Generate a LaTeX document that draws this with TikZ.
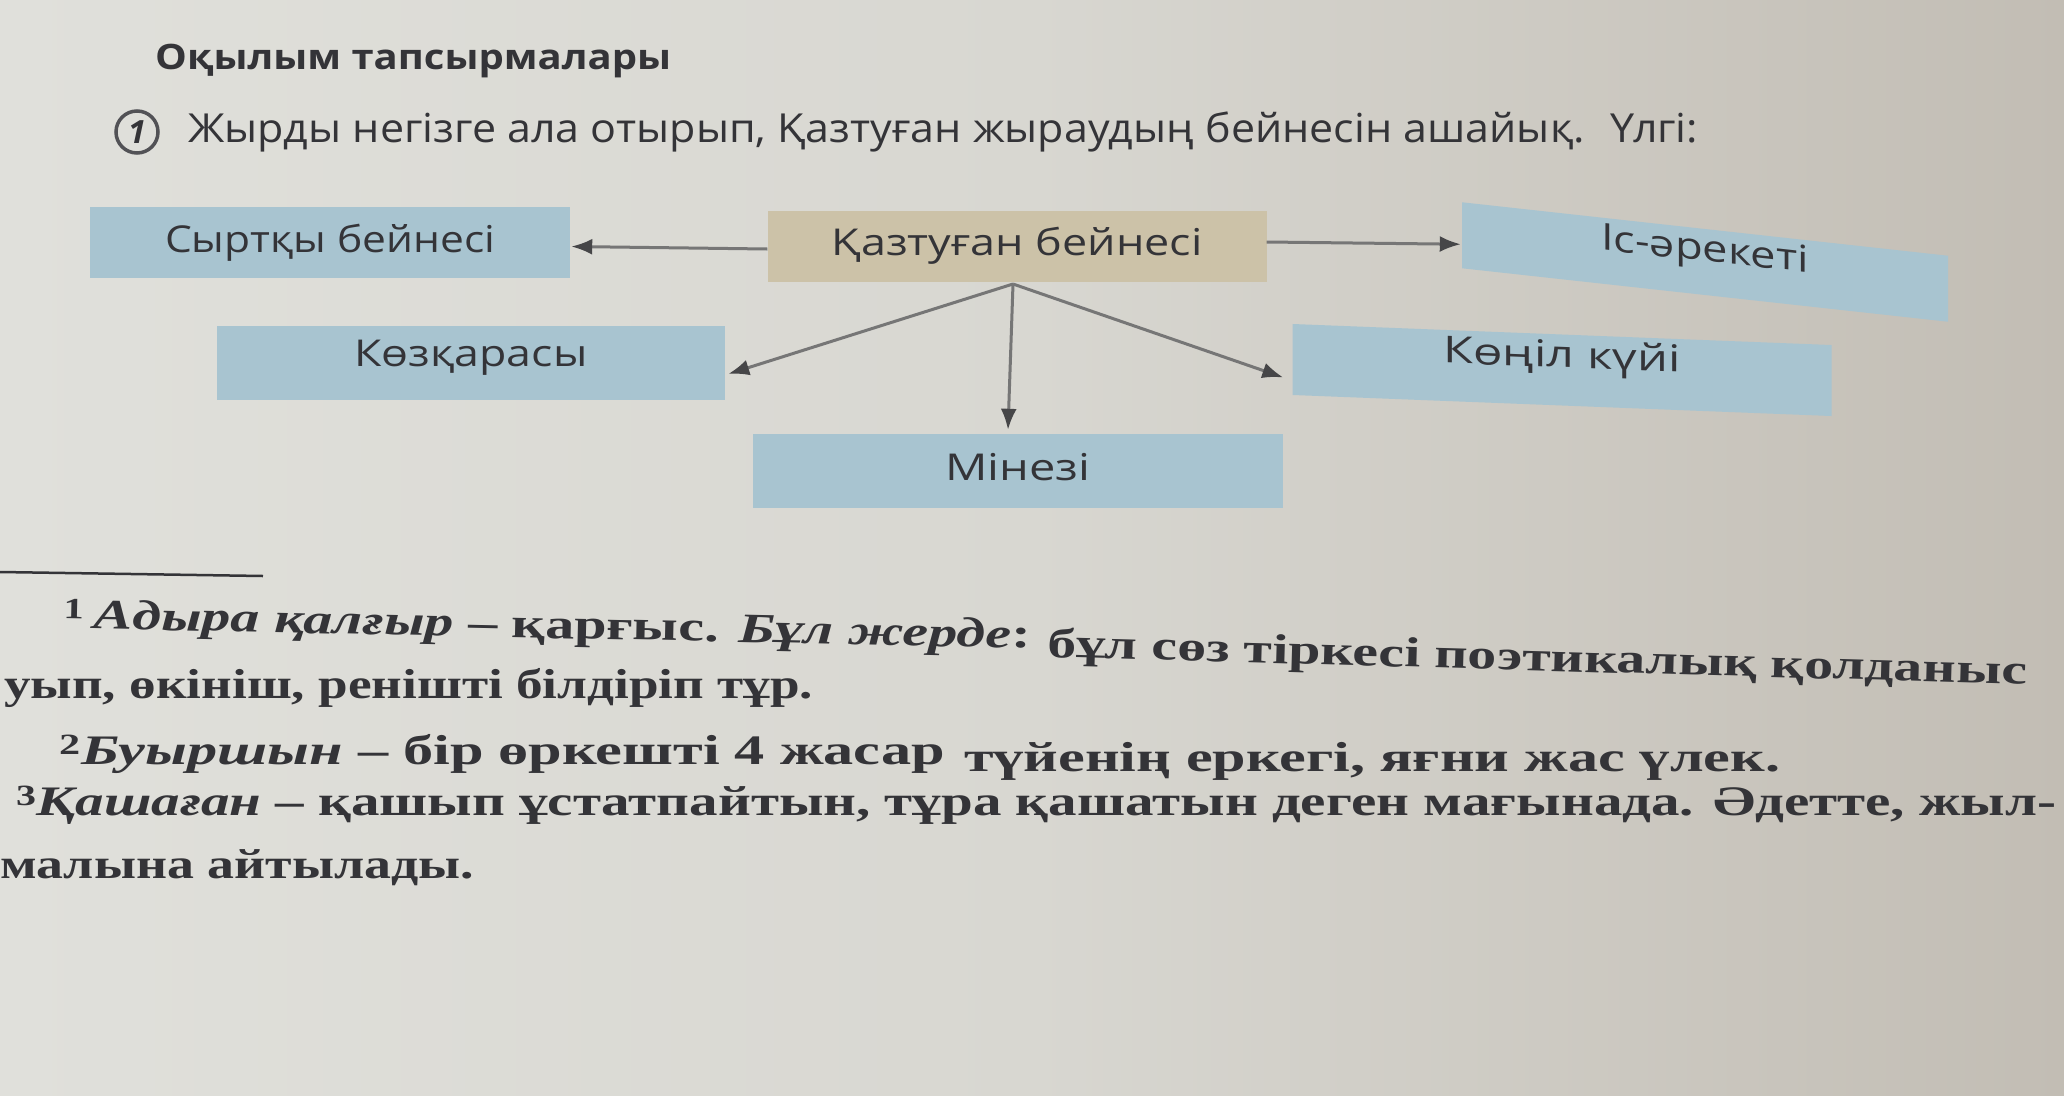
\documentclass[tikz,border=0pt]{standalone}
\usepackage{fontspec}
\usepackage{graphicx}
\setmainfont{Liberation Serif}
\newfontfamily\diagfont{Open Sans}
\usetikzlibrary{arrows.meta,calc}
\definecolor{bgL}{RGB}{224,224,219}
\definecolor{bgM}{RGB}{216,215,209}
\definecolor{bgR}{RGB}{194,189,180}
\definecolor{boxblue}{RGB}{168,196,208}
\definecolor{boxtan}{RGB}{204,194,168}
\definecolor{ink}{RGB}{52,52,56}
\definecolor{linegray}{RGB}{118,118,118}
\definecolor{tipgray}{RGB}{70,70,72}
\newlength\fitlen
\newcommand\fitw[2]{\settowidth\fitlen{#2}\scalebox{\fpeval{#1/\fitlen}}[1]{#2}}
\newcommand\lift[2]{\raisebox{#1pt}[\height][\depth]{#2}}
\tikzset{
  bluebox/.style={fill=boxblue, draw=none, inner sep=0pt},
  tanbox/.style={fill=boxtan, draw=none, inner sep=0pt},
  dtext/.style={font=\diagfont\fontsize{37}{37}\selectfont, text=ink},
  arr/.style={draw=linegray, line width=3pt, -{Latex[length=21pt,width=16pt,color=tipgray]}},
  fnote/.style={font=\bfseries\fontsize{42}{42}\selectfont, text=ink, inner sep=0pt, anchor=base west},
}
\begin{document}
\begin{tikzpicture}[x=1pt,y=-1pt]
\useasboundingbox (0,0) rectangle (2064,1095);
\shade[left color=bgL, right color=bgR, middle color=bgM] (0,0) rectangle (2064,1095);

% title and instruction
\node[font=\diagfont\bfseries\fontsize{35}{35}\selectfont, text=ink, anchor=west, inner sep=0pt] (title) at (155,61) {\fitw{516}{Оқылым тапсырмалары}};
\node[draw=ink!85, line width=3.5pt, circle, minimum size=42pt, inner sep=0pt, font=\diagfont\bfseries\itshape\fontsize{32}{32}\selectfont, text=ink] (num) at (137,132) {1};
\node[font=\diagfont\fontsize{40}{40}\selectfont, text=ink, anchor=west, inner sep=0pt] (instr) at (188,132) {\fitw{1510}{Жырды негізге ала отырып, Қазтуған жыраудың бейнесін ашайық. \ Үлгі:}};

% diagram boxes
\node[bluebox, dtext, minimum width=480pt, minimum height=71pt] (syr) at (330,242.5) {\fitw{330}{Сыртқы бейнесі}};
\node[tanbox, dtext, minimum width=499pt, minimum height=71pt] (kaz) at (1017,246) {\fitw{371}{Қазтуған бейнесі}};
\node[bluebox, dtext, minimum width=486pt, minimum height=66pt, yslant=-0.11, transform shape] (is) at (1705,262) {\lift{10}{\fitw{208}{Іс-әрекеті}}};
\node[bluebox, dtext, minimum width=508pt, minimum height=74pt] (koz) at (471,363) {\lift{5}{\fitw{233}{Көзқарасы}}};
\node[bluebox, dtext, minimum width=539pt, minimum height=71pt, yslant=-0.039, transform shape] (kon) at (1562,370) {\lift{12}{\fitw{237}{Көңіл күйі}}};
\node[bluebox, dtext, minimum width=530pt, minimum height=74pt] (min) at (1018,471) {\lift{4}{\fitw{145}{Мінезі}}};

% connectors
\coordinate (hub) at (1013,284);
\draw[arr] ($(kaz.west)+(0,3)$) -- ($(syr.east)+(1,4)$);
\draw[arr] ($(kaz.east)+(0,-4)$) -- ($(is.west)+(-1,9)$);
\draw[arr] (hub) -- ($(koz.east)+(3,11)$);
\draw[arr] (hub) -- ($(min.north)+(-10,-4)$);
\draw[arr] (hub) -- ($(kon.west)+(-9,18)$);

% footnotes
\draw[draw=ink, line width=2.5pt] (0,572) coordinate (r1) -- (263,576) coordinate (r2);
\node[fnote, rotate=-1.2] (f1a) at (63,628) {\fitw{968}{\textsuperscript{1}\,\textit{Адыра қалғыр} – қарғыс. \textit{Бұл жерде}:}};
\node[fnote, rotate=-1.6] (f1b) at (1047,657) {\fitw{980}{бұл сөз тіркесі поэтикалық қолданыс}};
\node[fnote] (f2) at (4,698) {\fitw{809}{уып, өкініш, ренішті білдіріп тұр.}};
\node[fnote] (f3a) at (59,764) {\fitw{886}{\textsuperscript{2}\textit{Буыршын} – бір өркешті 4 жасар}};
\node[fnote] (f3b) at (964,771) {\fitw{816}{түйенің еркегі, яғни жас үлек.}};
\node[fnote] (f4) at (16,815) {\fitw{2040}{\textsuperscript{3}\textit{Қашаған} – қашып ұстатпайтын, тұра қашатын деген мағынада. Әдетте, жыл-}};
\node[fnote] (f5) at (0,878) {\fitw{474}{малына айтылады.}};
\end{tikzpicture}
\end{document}
